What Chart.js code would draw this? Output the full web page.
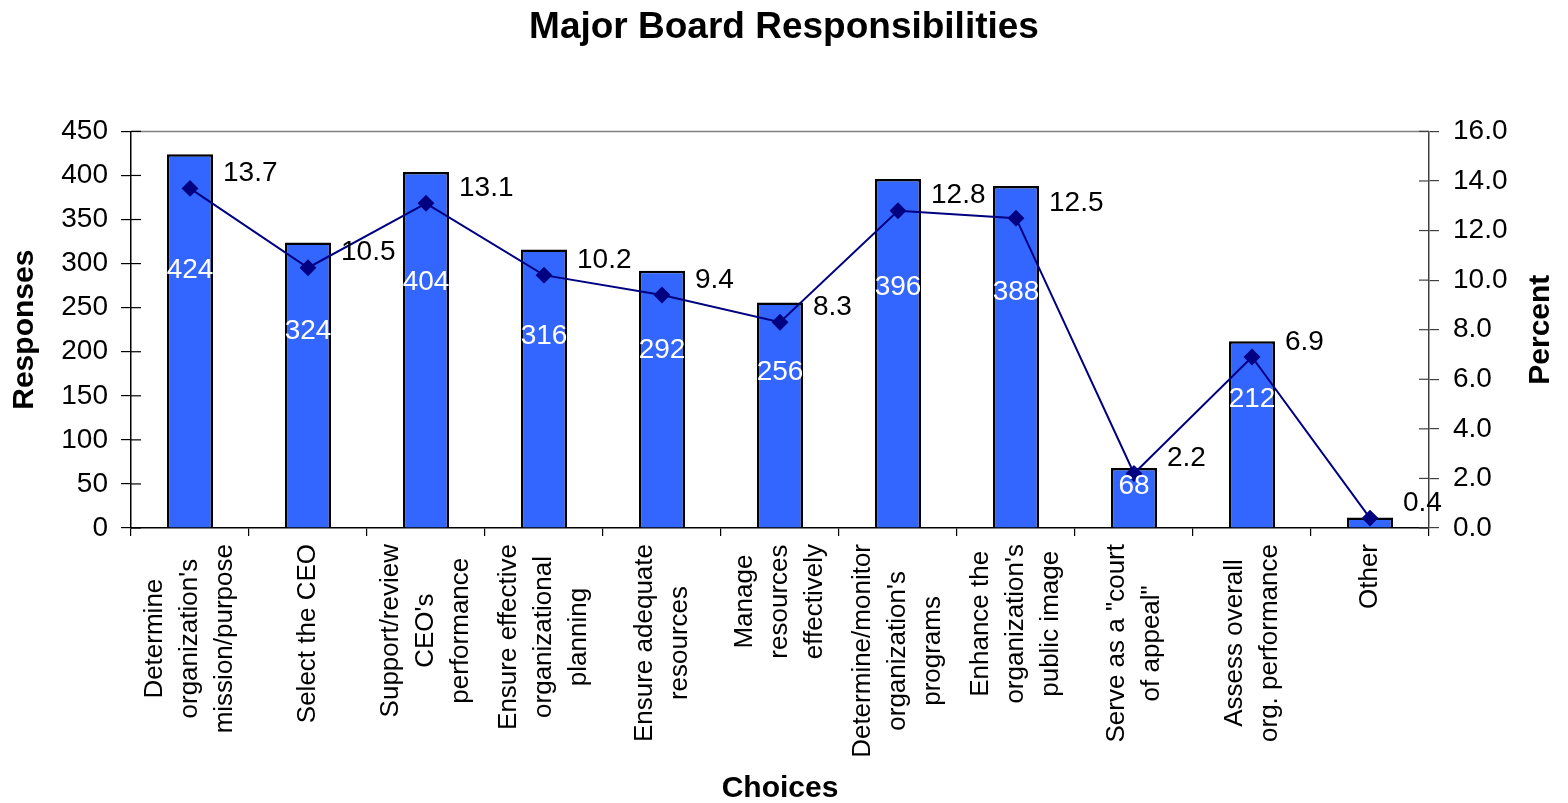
<!DOCTYPE html>
<html>
<head>
<meta charset="utf-8">
<title>Major Board Responsibilities</title>
<script src="https://cdn.jsdelivr.net/npm/chart.js@4"></script>
<style>
  html, body { margin: 0; padding: 0; background: #fff; }
  #wrap { position: relative; width: 1568px; height: 803px; }
</style>
</head>
<body>
<div id="wrap"><canvas id="boardChart"></canvas></div>
<script>
const choices = [
  ['Determine', "organization's", 'mission/purpose'],
  ['Select the CEO'],
  ['Support/review', "CEO's", 'performance'],
  ['Ensure effective', 'organizational', 'planning'],
  ['Ensure adequate', 'resources'],
  ['Manage', 'resources', 'effectively'],
  ['Determine/monitor', "organization's", 'programs'],
  ['Enhance the', "organization's", 'public image'],
  ['Serve as a "court', 'of appeal"'],
  ['Assess overall', 'org. performance'],
  ['Other']
];
const responses = [424, 324, 404, 316, 292, 256, 396, 388, 68, 212, 12];
const percents = [13.7, 10.5, 13.1, 10.2, 9.4, 8.3, 12.8, 12.5, 2.2, 6.9, 0.4];
const responseTicks = [0, 450, 50];   // min, max, step
const percentTicks = [0, 16, 2];

const FONT = '"Liberation Sans", Arial, sans-serif';

// extra drawing: top frame line, inner tick halves, value labels,
// rotated category labels and the axis titles
const decorations = {
  id: 'decorations',
  afterDatasetsDraw(chart) {
    const { ctx, chartArea: area, scales } = chart;
    ctx.save();

    ctx.strokeStyle = '#808080';
    ctx.lineWidth = 1.5;
    ctx.beginPath();
    ctx.moveTo(area.left, area.top);
    ctx.lineTo(area.right, area.top);
    ctx.stroke();

    ctx.lineWidth = 1.2;
    ctx.strokeStyle = '#000';
    scales.y.ticks.forEach((t, i) => {
      const py = scales.y.getPixelForTick(i);
      ctx.beginPath(); ctx.moveTo(area.left, py); ctx.lineTo(area.left + 10, py); ctx.stroke();
    });
    ctx.strokeStyle = '#404040';
    scales.y1.ticks.forEach((t, i) => {
      const py = scales.y1.getPixelForTick(i);
      ctx.beginPath(); ctx.moveTo(area.right - 10, py); ctx.lineTo(area.right, py); ctx.stroke();
    });

    // bar values, white, inside the bars
    ctx.font = '28px ' + FONT;
    ctx.textAlign = 'center';
    ctx.textBaseline = 'middle';
    ctx.fillStyle = '#fff';
    const bars = chart.getDatasetMeta(0).data;
    responses.forEach((v, i) => {
      const bar = bars[i];
      if (bar.base - bar.y < 30) return;
      ctx.fillText(String(v), bar.x, scales.y.getPixelForValue(v * 0.69));
    });

    // percent values beside the line markers
    ctx.fillStyle = '#000';
    ctx.textAlign = 'left';
    const pts = chart.getDatasetMeta(1).data;
    percents.forEach((v, i) => {
      ctx.fillText(v.toFixed(1), pts[i].x + 33, pts[i].y - 15);
    });

    // category labels, rotated and centred line by line
    ctx.font = '26px ' + FONT;
    ctx.textAlign = 'center';
    const xs = scales.x;
    choices.forEach((lines, i) => {
      const cx = xs.getPixelForValue(i);
      const maxW = Math.max(...lines.map(l => ctx.measureText(l).width));
      ctx.save();
      ctx.translate(cx, xs.top + 16 + maxW / 2);
      ctx.rotate(-Math.PI / 2);
      lines.forEach((l, k) => ctx.fillText(l, 0, (k - (lines.length - 1) / 2) * 35));
      ctx.restore();
    });

    // axis titles
    ctx.font = 'bold 30px ' + FONT;
    const midY = (area.top + area.bottom) / 2;
    ctx.save();
    ctx.translate(25, midY);
    ctx.rotate(-Math.PI / 2);
    ctx.fillText('Responses', 0, 0);
    ctx.restore();
    ctx.save();
    ctx.translate(1541, midY);
    ctx.rotate(-Math.PI / 2);
    ctx.fillText('Percent', 0, 0);
    ctx.restore();
    ctx.fillText('Choices', (area.left + area.right) / 2, 789);

    ctx.restore();
  }
};

new Chart(document.getElementById('boardChart'), {
  type: 'bar',
  data: {
    labels: choices,
    datasets: [
      {
        type: 'bar',
        data: responses,
        yAxisID: 'y',
        backgroundColor: '#3366FF',
        borderColor: '#000',
        borderWidth: 2.5,
        barPercentage: 0.39,
        categoryPercentage: 1,
        order: 1
      },
      {
        type: 'line',
        data: percents,
        yAxisID: 'y1',
        borderColor: '#000080',
        borderWidth: 2,
        pointStyle: 'rectRot',
        pointRadius: 7,
        pointBackgroundColor: '#000080',
        pointBorderColor: '#000080',
        tension: 0,
        order: 0
      }
    ]
  },
  options: {
    responsive: true,
    maintainAspectRatio: false,
    animation: false,
    layout: { padding: 0 },
    plugins: {
      legend: { display: false },
      tooltip: { enabled: false },
      title: {
        display: true,
        text: 'Major Board Responsibilities',
        color: '#000',
        font: { family: FONT, size: 37, weight: 'bold' },
        padding: { top: 6, bottom: 81 }
      }
    },
    scales: {
      x: {
        offset: true,
        grid: { offset: true, drawOnChartArea: false, tickLength: 8, color: '#000', lineWidth: 1.2 },
        border: { display: true, color: '#000', width: 1.5 },
        ticks: { display: false },
        afterFit(scale) { scale.height = 275; }
      },
      y: {
        position: 'left',
        min: responseTicks[0],
        max: responseTicks[1],
        grid: { drawOnChartArea: false, tickLength: 10, color: '#000', lineWidth: 1.2 },
        border: { display: true, color: '#000', width: 1.5 },
        ticks: { stepSize: responseTicks[2], color: '#000', padding: 13, font: { family: FONT, size: 28 } },
        afterFit(scale) { scale.width = 131; }
      },
      y1: {
        position: 'right',
        min: percentTicks[0],
        max: percentTicks[1],
        grid: { drawOnChartArea: false, tickLength: 10, color: '#404040', lineWidth: 1.2 },
        border: { display: true, color: '#404040', width: 1.5 },
        ticks: {
          stepSize: percentTicks[2],
          color: '#000',
          padding: 14,
          font: { family: FONT, size: 28 },
          callback: v => Number(v).toFixed(1)
        },
        afterFit(scale) { scale.width = 139; }
      }
    }
  },
  plugins: [decorations]
});
</script>
</body>
</html>
